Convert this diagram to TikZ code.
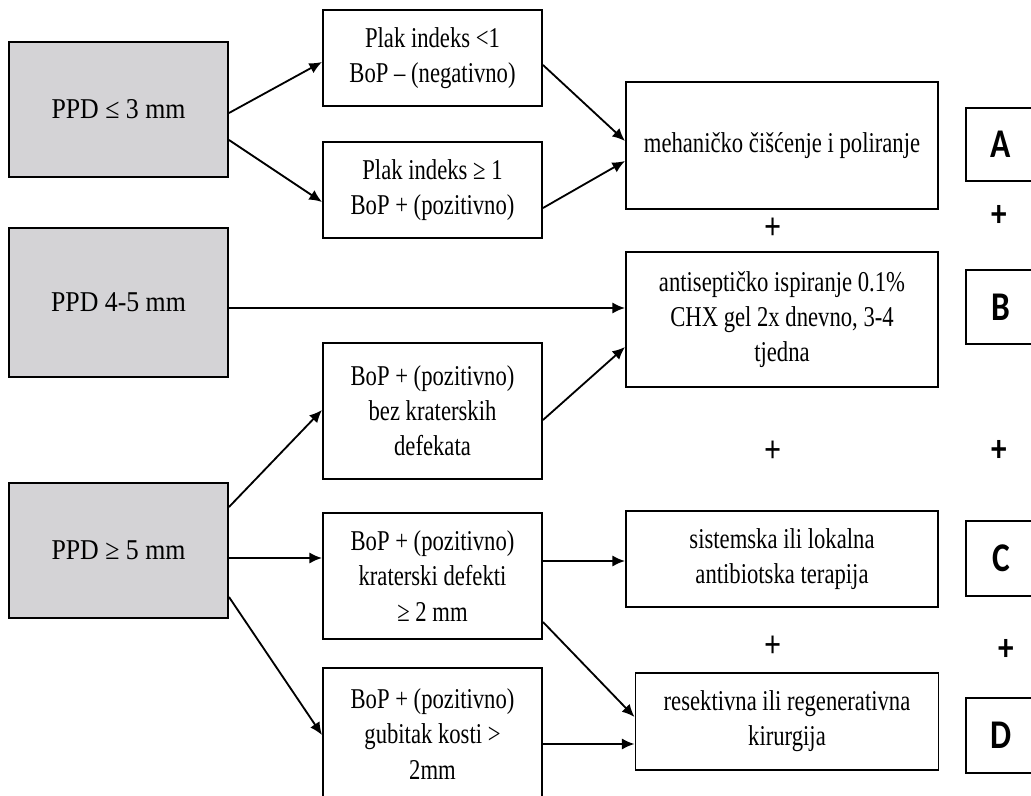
\documentclass[tikz,border=0pt]{standalone}
\usepackage{fontspec}
\setmainfont{Liberation Serif}[FakeStretch=0.79]
\newfontfamily\ppdfont{Liberation Serif}[FakeStretch=0.9]
\newfontfamily\letterfont{Carlito}[FakeStretch=0.82]
\usepackage{tikz}
\usetikzlibrary{calc,arrows.meta}
\definecolor{ppdgray}{RGB}{212,211,214}

\begin{document}
\begin{tikzpicture}[x=0.025cm,y=-0.025cm,line width=1.4pt,
	sz/.style 2 args={minimum width=#1*0.025cm,minimum height=#2*0.025cm},
	ppdbox/.style={draw,fill=ppdgray,inner sep=0pt,font=\fontsize{20.4}{25}\ppdfont},
	txtbox/.style={draw,fill=white,inner sep=0pt,align=center,font=\fontsize{20.4}{25}\selectfont},
	letterbox/.style={draw,inner sep=0pt,font=\fontsize{29}{30}\letterfont\bfseries},
	plusmid/.style={font=\fontsize{27}{28}\selectfont\bfseries},
	plusright/.style={font=\fontsize{27}{28}\letterfont\bfseries},
	arr/.style={line width=1.3pt,-{Latex[length=9pt,width=8pt]}}]
			\useasboundingbox (0,0) rectangle (1031,795);
			\clip (0,0) rectangle (1031,795);

			\node[ppdbox,sz={219}{135}] (g1) at (118.5,109.5) {PPD ≤ 3 mm};
			\node[ppdbox,sz={219}{149}] (g2) at (118.5,302.5) {PPD 4-5 mm};
			\node[ppdbox,sz={219}{135}] (g3) at (118.5,550.5) {PPD ≥ 5 mm};

			\node[txtbox,sz={219}{96}] (m1) at (432.5,58) {Plak indeks <1\\BoP – (negativno)};
			\node[txtbox,sz={219}{96}] (m2) at (432.5,190) {Plak indeks ≥ 1\\BoP + (pozitivno)};
			\node[txtbox,sz={219}{136}] (m3) at (432.5,411) {BoP + (pozitivno)\\bez kraterskih\\defekata};
			\node[txtbox,sz={219}{126}] (m4) at (432.5,576) {BoP + (pozitivno)\\kraterski defekti\\≥ 2 mm};
			\node[txtbox,sz={219}{132}] (m5) at (432.5,734) {BoP + (pozitivno)\\gubitak kosti >\\2mm};

			\node[txtbox,sz={312}{127}] (r1) at (782,145.5) {mehaničko čišćenje i poliranje};
			\node[txtbox,sz={312}{135}] (r2) at (782,319.5) {antiseptičko ispiranje 0.1\%\\CHX gel 2x dnevno, 3-4\\tjedna};
			\node[txtbox,sz={312}{96}] (r3) at (782,559) {sistemska ili lokalna\\antibiotska terapija};
			\node[txtbox,sz={303}{97}] (r4) at (787,721.5) {resektivna ili regenerativna\\kirurgija};

			\node[letterbox,sz={70}{73}] (lA) at (1001,144.5) {A};
			\node[letterbox,sz={70}{74}] (lB) at (1001,307) {B};
			\node[letterbox,sz={70}{75}] (lC) at (1001,558.5) {C};
			\node[letterbox,sz={70}{75}] (lD) at (1001,735.5) {D};

			\node[plusmid] (p1) at (773,229) {+};
			\node[plusmid] (p2) at (773,452) {+};
			\node[plusmid] (p3) at (773,647) {+};
			\node[plusright] (q1) at (999,216) {+};
			\node[plusright] (q2) at (999,451) {+};
			\node[plusright] (q3) at (1006,650) {+};

			\draw[arr] ($(g1.east)+(0,3.5)$) -- ($(m1.west)+(0,4)$);
			\draw[arr] ($(g1.east)+(0,30.5)$) -- ($(m2.west)+(0,12)$);
			\draw[arr] ($(m1.east)+(0,7)$) -- ($(r1.west)+(0,-4.5)$);
			\draw[arr] ($(m2.east)+(0,18)$) -- ($(r1.west)+(0,15.5)$);
			\draw[arr] ($(g2.east)+(0,5.5)$) -- ($(r2.west)+(0,-11.5)$);
			\draw[arr] ($(m3.east)+(0,9)$) -- ($(r2.west)+(0,27.5)$);
			\draw[arr] ($(g3.east)+(0,-43.5)$) -- ($(m3.west)+(0,-1)$);
			\draw[arr] ($(g3.east)+(0,7.5)$) -- ($(m4.west)+(0,-18)$);
			\draw[arr] ($(g3.east)+(0,46.5)$) -- ($(m5.west)+(0,1)$);
			\draw[arr] ($(m4.east)+(0,-15)$) -- ($(r3.west)+(0,2)$);
			\draw[arr] ($(m4.east)+(0,46)$) -- ($(r4.west)+(0,-4.5)$);
			\draw[arr] ($(m5.east)+(0,10)$) -- ($(r4.west)+(0,22.5)$);
		\end{tikzpicture}
\end{document}
